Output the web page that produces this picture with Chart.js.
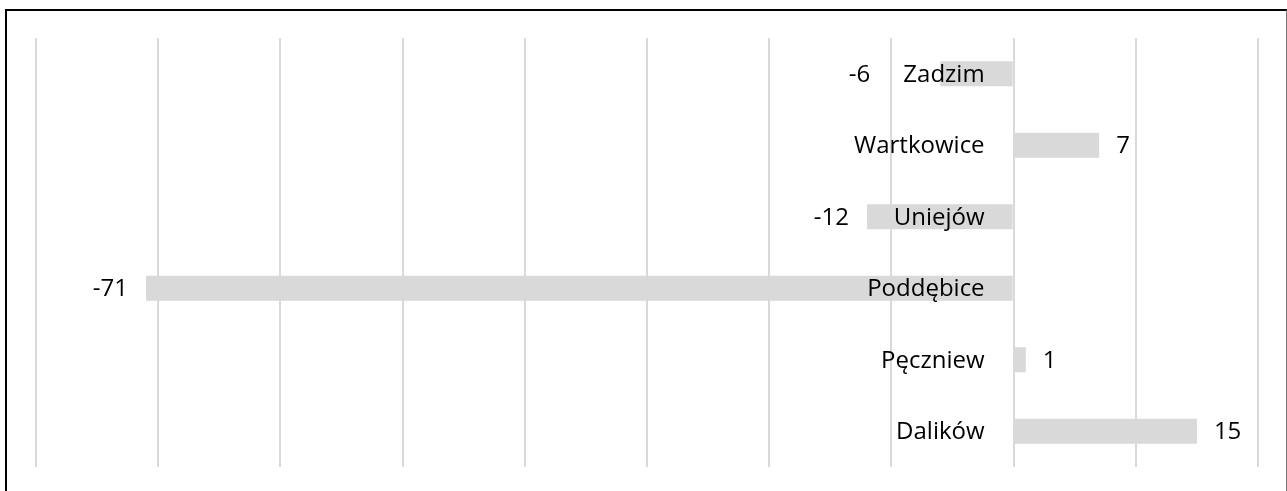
<!DOCTYPE html>
<html>
<head>
<meta charset="utf-8">
<script src="https://cdn.jsdelivr.net/npm/chart.js@4/dist/chart.umd.min.js"></script>
<style>
  html, body { margin: 0; padding: 0; background: #fff; overflow: hidden; }
  #frame {
    position: absolute; left: 5px; top: 9px; width: 1279px; height: 520px;
    border-top: 2px solid #000; border-left: 2px solid #000; border-right: 1px solid #777;
  }
  #wrap { position: absolute; left: 0; top: 0; width: 1287px; height: 491px; }
</style>
</head>
<body>
<div id="frame"></div>
<div id="wrap"><canvas id="chart"></canvas></div>
<script>
// gminy (od góry do dołu) i wartości
const gminy = ["Zadzim", "Wartkowice", "Uniejów", "Poddębice", "Pęczniew", "Dalików"];
const wartosci = [-6, 7, -12, -71, 1, 15];
const osMin = -80;
const osMax = 20;
const krok = 10;

const FONT = '24px "Open Sans", sans-serif';

// etykiety kategorii przy osi zero + etykiety wartości na końcach słupków
const etykiety = {
  id: "etykiety",
  afterDatasetsDraw(chart) {
    const ctx = chart.ctx;
    const x = chart.scales.x;
    const meta = chart.getDatasetMeta(0);
    const zero = x.getPixelForValue(0);
    ctx.save();
    ctx.font = FONT;
    ctx.fillStyle = "#000";
    ctx.textBaseline = "middle";
    meta.data.forEach((bar, i) => {
      const y = bar.y;
      const name = gminy[i];
      const textRight = zero - 29;
      const textLeft = textRight - ctx.measureText(name).width;
      ctx.textAlign = "right";
      ctx.fillText(name, textRight, y + 1);

      const v = wartosci[i];
      const end = bar.x;
      if (v >= 0) {
        ctx.textAlign = "left";
        ctx.fillText(String(v), end + 17, y + 1);
      } else {
        ctx.textAlign = "right";
        let px = end - 18;
        if (end > textLeft - 10) px = textLeft - 33; // nie nachodzi na nazwę
        ctx.fillText(String(v), px, y + 1);
      }
    });
    ctx.restore();
  }
};

new Chart(document.getElementById("chart"), {
  type: "bar",
  data: {
    labels: gminy,
    datasets: [{
      data: wartosci,
      backgroundColor: "#d9d9d9",
      borderWidth: 0,
      barPercentage: 0.35,
      categoryPercentage: 1
    }]
  },
  options: {
    indexAxis: "y",
    responsive: true,
    maintainAspectRatio: false,
    animation: false,
    layout: { padding: { left: 36, right: 29, top: 38, bottom: 24 } },
    plugins: { legend: { display: false }, tooltip: { enabled: false } },
    scales: {
      x: {
        min: osMin,
        max: osMax,
        ticks: { display: false, stepSize: krok },
        grid: { color: "#d9d9d9", lineWidth: 2, drawTicks: false },
        border: { display: false }
      },
      y: {
        ticks: { display: false },
        grid: { display: false, drawTicks: false },
        border: { display: false }
      }
    }
  },
  plugins: [etykiety]
});
</script>
</body>
</html>
